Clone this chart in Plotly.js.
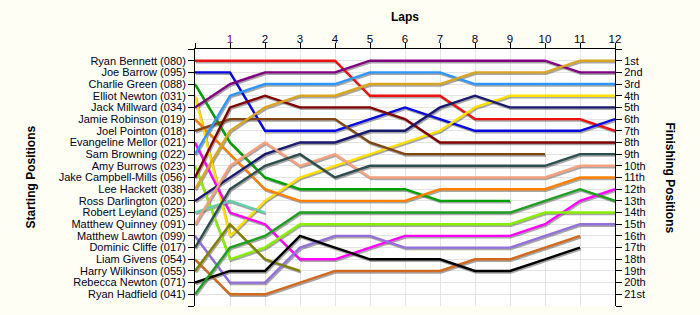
<!DOCTYPE html>
<html>
<head>
<meta charset="utf-8">
<script src="https://cdn.plot.ly/plotly-3.0.1.min.js"></script>
<style>html,body{margin:0;padding:0;background:#FEFEF4;}</style>
</head>
<body>
<div id="chart" style="width:700px;height:315px;"></div>
<script>
// ---- data ----
var laps = [0,1,2,3,4,5,6,7,8,9,10,11,12];
var lapLabels = ["", "1","2","3","4","5","6","7","8","9","10","11","12"];
var drivers = ["Ryan Bennett (080)","Joe Barrow (095)","Charlie Green (088)","Elliot Newton (031)",
  "Jack Millward (034)","Jamie Robinson (019)","Joel Pointon (018)","Evangeline Mellor (021)",
  "Sam Browning (022)","Amy Burrows (023)","Jake Campbell-Mills (056)","Lee Hackett (038)",
  "Ross Darlington (020)","Robert Leyland (025)","Matthew Quinney (091)","Matthew Lawton (099)",
  "Dominic Cliffe (017)","Liam Givens (054)","Harry Wilkinson (055)","Rebecca Newton (071)",
  "Ryan Hadfield (041)"];
var finishLabels = ["1st","2nd","3rd","4th","5th","6th","7th","8th","9th","10th","11th","12th",
  "13th","14th","15th","16th","17th","18th","19th","20th","21st"];

var ryanBennett      = [1,1,1,1,1,4,4,4,6,6,6,6,7];
var joeBarrow        = [2,2,7,7,7,6,5,6,7,7,7,7,6];
var charlieGreen     = [3,8,11,12,12,12,12,13,13,13];
var elliotNewton     = [4,16,13,11,10,9,8,7,5,4,4,4,4];
var jackMillward     = [5,3,2,2,2,1,1,1,1,1,1,2,2];
var jamieRobinson    = [6,9,12,13,13,13,13,12,12,12,12,11,11];
var joelPointon      = [7,6,6,6,6,8,9,9,9,9,9];
var evangelineMellor = [8,14,15,18,18,17,16,16,16,16,15,13,12];
var samBrowning      = [9,4,3,3,3,2,2,2,3,3,3,3,3];
var amyBurrows       = [10,18,17,15,15,15,15,15,15,15,14,14,14];
var jakeCampbell     = [11,5,4,5,5,5,6,8,8,8,8,8,8];
var leeHackett       = [12,7,5,4,4,3,3,3,2,2,2,1,1];
var rossDarlington   = [13,11,9,8,8,7,7,5,4,5,5,5,5];
var robertLeyland    = [14,13,14];
var matthewQuinney   = [15,10,8,10,9,11,11,11,11,11,11,10,10];
var matthewLawton    = [16,20,20,17,16,16,17,17,17,17,16,15,15];
var dominicCliffe    = [17,12,10,9,11,10,10,10,10,10,10,9,9];
var liamGivens       = [18,21,21,20,19,19,19,19,18,18,17,16];
var harryWilkinson   = [19,15,18,19];
var rebeccaNewton    = [20,19,19,16,17,18,18,18,19,19,18,17];
var ryanHadfield     = [21,17,16,14,14,14,14,14,14,14,13,12,13];

var series = [ryanBennett, joeBarrow, charlieGreen, elliotNewton, jackMillward, jamieRobinson,
  joelPointon, evangelineMellor, samBrowning, amyBurrows, jakeCampbell, leeHackett, rossDarlington,
  robertLeyland, matthewQuinney, matthewLawton, dominicCliffe, liamGivens, harryWilkinson,
  rebeccaNewton, ryanHadfield];

var colors = ["#EE1111","#0808E0","#00A000","#FFE000","#800080","#FF8000","#7F4513","#FF00FF",
  "#2E96FF","#88EE00","#800000","#DAA520","#191970","#66CDAA","#F5A07E","#9370DB","#2F4F4F",
  "#D2691E","#808000","#000000","#1E9E1E"];

// ---- traces ----
var traces = [];
// shadows (main hidden axes, shifted range)
series.forEach(function(s, i){
  traces.push({x: laps.slice(0, s.length), y: s, xaxis:'x', yaxis:'y', mode:'lines',
    line:{color:'rgba(80,80,80,0.5)', width:2.4}, hoverinfo:'skip', showlegend:false});
});
// real lines
series.forEach(function(s, i){
  traces.push({x: laps.slice(0, s.length), y: s, xaxis:'x2', yaxis:'y2', mode:'lines',
    name: drivers[i], line:{color: colors[i], width:2.4}, showlegend:false});
});
// dummies for extra axes
traces.push({x:[null], y:[null], xaxis:'x2', yaxis:'y3', mode:'lines', showlegend:false, hoverinfo:'skip'});
traces.push({x:[null], y:[null], xaxis:'x3', yaxis:'y2', mode:'lines', showlegend:false, hoverinfo:'skip'});

var posVals = [];
for (var k = 0; k <= 22; k++) posVals.push(k);
var leftText = [""].concat(drivers).concat([""]);
var rightText = [""].concat(finishLabels).concat([""]);
var xText = lapLabels.map(function(t){ return t === "1" ? '<span style="color:#800080">1</span>' : t; });

var fontFam = "Liberation Sans, Arial, sans-serif";
var tickFont = {family: fontFam, size: 11, color: '#000020'};
var dx = 1/35, dy = 1.5/11.68;

var layout = {
  width: 700, height: 315,
  margin: {l:195, r:85, t:49, b:9, pad:0},
  paper_bgcolor: '#FEFEF4',
  plot_bgcolor: '#FFFFFF',
  showlegend: false,
  hovermode: false,
  xaxis: {range:[-dx, 12-dx], autorange:false, visible:false, fixedrange:true},
  yaxis: {range:[22-dy, -dy], autorange:false, visible:false, fixedrange:true},
  // labels + grid (no tick marks, so labels sit close to the line)
  xaxis2: {overlaying:'x', anchor:'y2', side:'top', range:[0,12], autorange:false,
    tickmode:'array', tickvals: laps, ticktext: xText, ticks:'', ticklabelstandoff: 0,
    showline:true, linecolor:'#000', linewidth:1, showgrid:true, gridcolor:'#E4E4E4', gridwidth:1,
    zeroline:false, tickfont: {family: fontFam, size: 11.5, color: '#000020'}},
  // tick marks only
  xaxis3: {overlaying:'x', anchor:'y2', side:'top', range:[0,12], autorange:false,
    tickmode:'array', tickvals: laps, ticks:'outside', ticklen:5, tickcolor:'#000',
    showticklabels:false, showline:false, showgrid:false, zeroline:false},
  yaxis2: {overlaying:'y', anchor:'x2', side:'left', range:[22,0], autorange:false,
    tickmode:'array', tickvals: posVals, ticktext: leftText, ticks:'outside', ticklen:6, tickcolor:'#000',
    showline:true, linecolor:'#000', linewidth:1, showgrid:true, gridcolor:'#E4E4E4', gridwidth:1,
    zeroline:false, tickfont: tickFont},
  yaxis3: {overlaying:'y', anchor:'x2', side:'right', range:[22,0], autorange:false,
    tickmode:'array', tickvals: posVals, ticktext: rightText, ticks:'outside', ticklen:6, tickcolor:'#000',
    showline:true, linecolor:'#000', linewidth:1, showgrid:false, zeroline:false, tickfont: tickFont},
  annotations: [
    {text:'<b>Laps</b>', xref:'paper', yref:'paper', x:0.5, y:(306-17)/257, xanchor:'center', yanchor:'middle',
     showarrow:false, font:{family:fontFam, size:12, color:'#000'}},
    {text:'<b>Starting Positions</b>', xref:'paper', yref:'paper', x:(30-195)/420, y:0.5, xanchor:'center', yanchor:'middle',
     textangle:-90, showarrow:false, font:{family:fontFam, size:12, color:'#000'}},
    {text:'<b>Finishing Positions</b>', xref:'paper', yref:'paper', x:(670-195)/420, y:0.5, xanchor:'center', yanchor:'middle',
     textangle:90, showarrow:false, font:{family:fontFam, size:12, color:'#000'}}
  ]
};

Plotly.newPlot('chart', traces, layout, {displayModeBar:false, staticPlot:true});
</script>
</body>
</html>
